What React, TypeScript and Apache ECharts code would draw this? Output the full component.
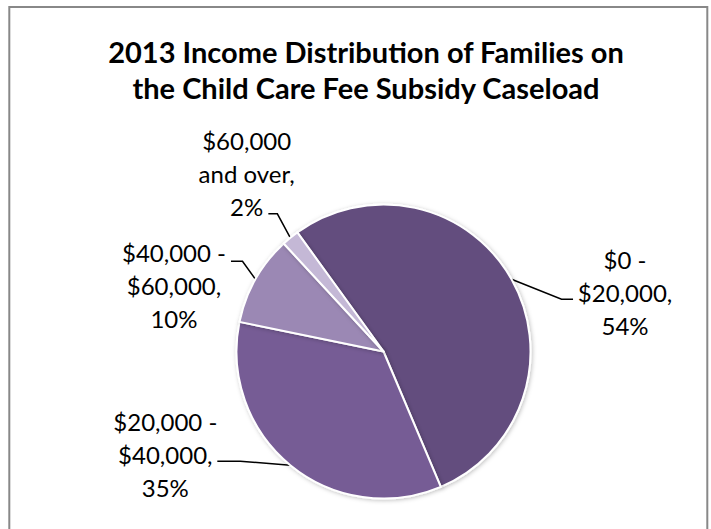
import React, { useEffect, useRef } from 'react';
import * as echarts from 'echarts';

// ---- data ----
const categories = ['$0 -\n$20,000', '$20,000 -\n$40,000', '$40,000 -\n$60,000', '$60,000\nand over'];
const shares = [53.6, 34.6, 9.9, 1.9];
const titleLines = ['2013 Income Distribution of Families on', 'the Child Care Fee Subsidy Caseload'];

// ---- styling / layout ----
const sliceColors = ['#634D7E', '#765B95', '#9B88B4', '#C4B8D6'];
// leader geometry relative to each slice's outer edge point:
// [elbow dx, elbow dy, horizontal run, label-center dx (from line end), label-center dy]
const leaderLayout = [
  [50, 20, 11.5, 52, -7],
  [-50, -4, -23, -52, -6.5],
  [-13, -18, -11.5, -57, 24.5],
  [-13, -24, -9, -21.7, -40],
];

const FONT = 'Lato, "Open Sans", sans-serif';

export default function App() {
  const ref = useRef<HTMLDivElement>(null);

  useEffect(() => {
    if (!ref.current) return;
    const chart = echarts.init(ref.current, null, { renderer: 'svg' });
    const total = shares.reduce((a, b) => a + b, 0);

    chart.setOption({
      animation: false,
      backgroundColor: '#ffffff',
      graphic: [
        {
          type: 'rect',
          shape: { x: 9.3, y: 7, width: 698, height: 560 },
          style: { fill: 'none', stroke: '#888888', lineWidth: 2 },
          silent: true,
        },
        {
          type: 'text',
          x: 366,
          y: 51,
          style: {
            text: titleLines[0],
            textAlign: 'center',
            textVerticalAlign: 'middle',
            font: `bold 29px ${FONT}`,
            fill: '#000000',
          },
        },
        {
          type: 'text',
          x: 366,
          y: 87,
          style: {
            text: titleLines[1],
            textAlign: 'center',
            textVerticalAlign: 'middle',
            font: `bold 29px ${FONT}`,
            fill: '#000000',
          },
        },
      ],
      series: [
        {
          type: 'pie',
          center: [383.5, 351.5],
          radius: 147,
          startAngle: 125.9,
          clockwise: true,
          avoidLabelOverlap: false,
          emphasis: { disabled: true },
          data: categories.map((name, i) => ({
            name,
            value: shares[i],
            itemStyle: { color: sliceColors[i] },
          })),
          itemStyle: {
            borderColor: '#ffffff',
            borderWidth: 2,
            shadowBlur: 4,
            shadowOffsetX: 1,
            shadowOffsetY: 1,
            shadowColor: 'rgba(0,0,0,0.25)',
          },
          label: {
            show: true,
            position: 'outside',
            formatter: (p: any) => `${p.name},\n${Math.round((p.value / total) * 100)}%`,
            fontFamily: FONT,
            fontSize: 24,
            lineHeight: 33,
            color: '#000000',
          },
          labelLine: {
            show: true,
            smooth: false,
            lineStyle: { color: '#000000', width: 1.5 },
          },
          labelLayout: (params: any) => {
            const pts = params.labelLinePoints;
            if (!pts || !pts.length) return {};
            const [ex, ey, hx, lx, ly] = leaderLayout[params.dataIndex];
            const p0 = pts[0];
            const p1 = [p0[0] + ex, p0[1] + ey];
            const p2 = [p1[0] + hx, p1[1]];
            return {
              x: p2[0] + lx,
              y: p2[1] + ly,
              align: 'center',
              verticalAlign: 'middle',
              labelLinePoints: [p0, p1, p2],
            };
          },
        },
      ],
    });

    return () => chart.dispose();
  }, []);

  return (
    <div
      ref={ref}
      style={{ position: 'fixed', left: 0, top: 0, width: 711, height: 529 }}
    />
  );
}
